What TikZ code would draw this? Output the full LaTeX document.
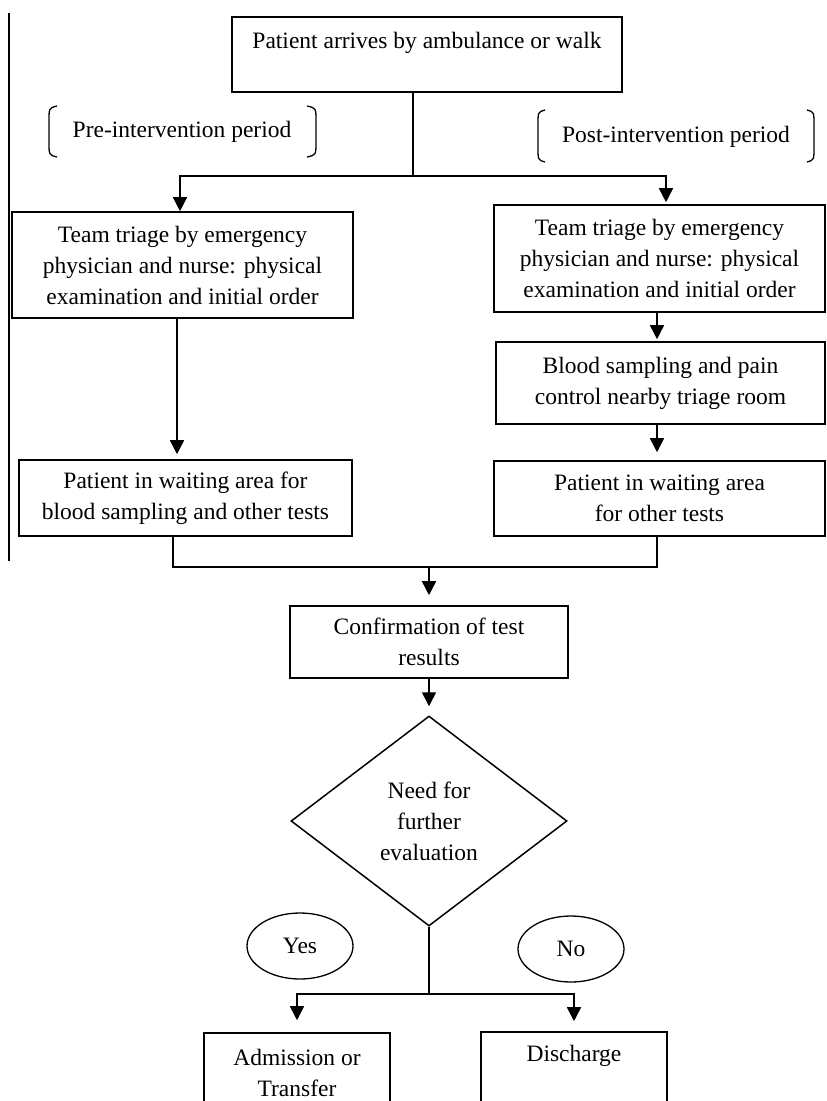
\documentclass[tikz,border=0pt]{standalone}
\usepackage{fontspec}
\setmainfont{Liberation Serif}
\usetikzlibrary{shapes.geometric,arrows.meta,calc}
\newcommand\flowfont{\fontsize{23.5}{31}\selectfont}
\begin{document}
\begin{tikzpicture}[x=1pt,y=-1pt,line width=1.6pt,
  box/.style={draw, rectangle, align=center, inner sep=0pt, font=\flowfont, line width=1.6pt},
  txt/.style={align=center, inner sep=0pt, font=\flowfont},
  dec/.style={draw, diamond, align=center, inner sep=0pt, font=\flowfont, minimum width=276, minimum height=210, line width=1.5pt},
  oval/.style={draw, ellipse, inner sep=0pt, font=\flowfont, minimum width=106, minimum height=66, line width=1.3pt},
  brk/.style={line width=1.3pt},
  arr/.style={-{Triangle[length=14pt,width=14pt]}, line width=1.6pt},
  conn/.style={line width=1.6pt}]
\clip (0,0) rectangle (827,1101);
\fill[white] (0,0) rectangle (827,1101);

% left margin line
\coordinate (l1) at (9,13);
\coordinate (l2) at (9,561);
\draw[line width=1.4pt] (l1) -- (l2);

% top
\node[box, minimum width=390, minimum height=75] (top) at (427,54.5) {};
\node[txt] (toptext) at (427,43) {Patient arrives by ambulance or walk};

% periods
\node[txt] (pre) at (182,132) {Pre-intervention period};
\node[txt] (post) at (676,137) {Post-intervention period};
\draw[brk] (57,106) .. controls (49,108) .. (49,121) -- (49,142) .. controls (49,155) .. (57,157);
\draw[brk] (307,106) .. controls (316,108) .. (316,121) -- (316,142) .. controls (316,155) .. (307,157);
\draw[brk] (545,110) .. controls (538,112) .. (538,125) -- (538,147) .. controls (538,160) .. (545,162);
\draw[brk] (807,110) .. controls (814,112) .. (814,125) -- (814,147) .. controls (814,160) .. (807,162);

% left branch
\node[box, minimum width=341, minimum height=106] (t1) at (182.5,265)
  {Team triage by emergency\\physician and nurse: physical\\examination and initial order};
\node[box, minimum width=333, minimum height=76] (w1) at (185.5,498)
  {Patient in waiting area for\\blood sampling and other tests};

% right branch
\node[box, minimum width=331, minimum height=107] (t2) at (659.5,258.5)
  {Team triage by emergency\\physician and nurse: physical\\examination and initial order};
\node[box, minimum width=329, minimum height=82] (b2) at (660.5,383)
  {Blood sampling and pain\\control nearby triage room};
\node[box, minimum width=331, minimum height=75] (w2) at (659.5,498.5)
  {Patient in waiting area\\for other tests};

% lower part
\node[box, minimum width=278, minimum height=72] (conf) at (429,642)
  {Confirmation of test\\results};
\node[dec] (need) at (429,821) {Need for\\further\\evaluation};
\node[oval] (yes) at (300,946) {Yes};
\node[oval] (no) at (571,949) {No};
\node[box, minimum width=186, minimum height=80] (adm) at (297,1073)
  {Admission or\\Transfer};
\node[box, minimum width=186, minimum height=80] (dis) at (574,1072) {};
\node[txt] (distext) at (574,1056) {Discharge};

% connectors
\coordinate (s1) at (413,176);
\draw[conn] (top.south -| s1) -- (s1);
\draw[arr] (s1) -| ([xshift=-2.5]t1.north);
\draw[arr, shorten >=2] (s1) -| ([xshift=6.5]t2.north);
\draw[arr, shorten >=5] ([xshift=-5.5]t1.south) -- ([xshift=-8.5]w1.north);
\draw[arr, shorten >=2] ([xshift=-2.5]t2.south) -- ([xshift=-3.5]b2.north);
\draw[arr, shorten >=8] ([xshift=-3.5]b2.south) -- ([xshift=-2.5]w2.north);

\coordinate (m) at (429,567);
\draw[conn] ([xshift=-12.5]w1.south) |- (m);
\draw[conn] ([xshift=-2.5]w2.south) |- (m);
\draw[arr, shorten >=10] (m) -- (conf.north);
\draw[arr, shorten >=9] (conf.south) -- (need.north);

\coordinate (s2) at (429,994);
\draw[conn] (need.south) -- (s2);
\draw[arr, shorten >=12] (s2) -| (adm.north);
\draw[arr, shorten >=10] (s2) -| (dis.north);
\end{tikzpicture}
\end{document}
